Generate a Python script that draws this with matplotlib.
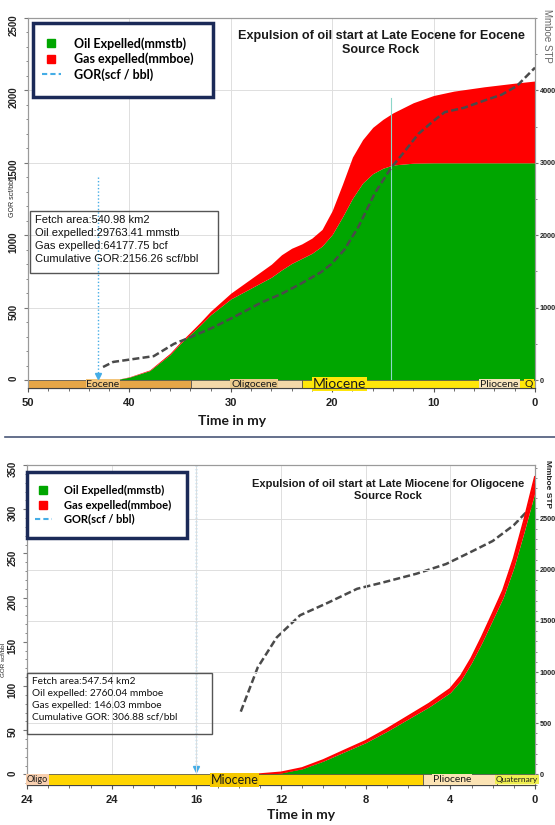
import matplotlib
matplotlib.use("Agg")
import matplotlib.pyplot as plt
from matplotlib.patches import Rectangle
from matplotlib.lines import Line2D
from matplotlib.ticker import MultipleLocator

plt.rcParams['font.family'] = ['Liberation Sans', 'DejaVu Sans']

W, H = 555, 825

# ---------------- top panel: Eocene source rock ----------------
top_time = [41.5, 40, 38, 36, 35, 33, 32, 30, 28, 26, 25, 24, 23, 22, 21, 20,
            19, 18, 17, 16, 15, 14, 12, 10, 8, 5, 2, 0]
top_oil = [0, 40, 130, 350, 500, 760, 900, 1120, 1270, 1420, 1520, 1610, 1680,
           1750, 1850, 2010, 2250, 2510, 2720, 2850, 2925, 2970, 2995, 3000,
           3000, 3000, 3000, 3000]
top_gas = [0, 5, 10, 20, 20, 40, 50, 80, 130, 180, 210, 210, 200, 210, 230, 330,
           450, 570, 600, 640, 675, 720, 835, 930, 990, 1050, 1100, 1130]
top_gor_time = [42.6, 41.6, 39.6, 37.6, 35.6, 34.0, 31.7, 29.7, 27.0, 25.0, 23.1,
                21.1, 20.1, 18.8, 17.4, 15.8, 14.2, 12.9, 11.5, 10.0, 8.9, 7.0,
                5.0, 3.3, 1.8, 0.0]
top_gor = [90, 125, 145, 165, 250, 295, 365, 435, 535, 595, 665, 745, 800, 900,
           1060, 1290, 1465, 1575, 1700, 1790, 1850, 1880, 1930, 1970, 2030, 2157]
top_epochs = ['Eocene', 'Oligocene', 'Miocene', 'Pliocene', 'Q']
top_epoch_start = [50, 33.9, 23.0, 5.3, 1.6]
top_epoch_end = [33.9, 23.0, 5.3, 1.6, 0]
top_info = ["Fetch area:540.98 km2", "Oil expelled:29763.41 mmstb",
            "Gas expelled:64177.75 bcf", "Cumulative GOR:2156.26 scf/bbl"]
top_title = "Expulsion of oil start at Late Eocene for Eocene\nSource Rock"

# ---------------- bottom panel: Oligocene source rock ----------------
bot_time = [13, 12, 11, 10, 9, 8, 7, 6, 5, 4, 3.5, 3, 2.5, 2, 1.5, 1, 0.5, 0]
bot_oil = [0, 15, 55, 130, 220, 310, 420, 540, 660, 800, 920, 1090, 1290, 1510,
           1730, 2020, 2380, 2760]
bot_gas = [0, 2, 5, 8, 12, 15, 20, 25, 30, 35, 40, 45, 55, 60, 70, 90, 110, 146]
bot_gor_time = [13.9, 13.1, 12.2, 11.1, 9.8, 8.4, 7.2, 5.6, 4.2, 3.0, 2.0, 1.0, 0.0]
bot_gor = [71, 121, 155, 180, 194, 210, 217, 227, 238, 252, 264, 282, 307]
bot_epochs = ['Oligo', 'Miocene', 'Pliocene', 'Quaternary']
bot_epoch_start = [24, 23.1, 5.3, 1.8]
bot_epoch_end = [23.1, 5.3, 1.8, 0]
bot_xticks = [24, 20, 16, 12, 8, 4, 0]
bot_xticklabels = ['24', '24', '16', '12', '8', '4', '0']
bot_info = ["Fetch area:547.54 km2", "Oil expelled: 2760.04 mmboe",
            "Gas expelled: 146.03 mmboe", "Cumulative GOR: 306.88 scf/bbl"]
bot_title = "Expulsion of oil start at Late Miocene for Oligocene\nSource Rock"

legend_labels = ['Oil Expelled(mmstb)', 'Gas expelled(mmboe)', 'GOR(scf / bbl)']

GREEN = '#00a600'
RED = '#ff0000'
GOR_C = '#4a4a4a'
ARROW_C = '#45ade6'
GRID_C = '#dedede'
NAVY = '#1b2a58'


def fx(px):
    return px / W


def fy(py):
    return 1 - py / H


def rect_px(x0, y0, x1, y1):
    return [x0 / W, 1 - y1 / H, (x1 - x0) / W, (y1 - y0) / H]


fig = plt.figure(figsize=(W / 100, H / 100), dpi=100)


def make_panel(box, xlim, ylim_area, ylim_gor, gor_on_top):
    ax = fig.add_axes(rect_px(*box))
    g = ax.twinx()
    ax.set_xlim(*xlim)
    ax.set_ylim(*ylim_area)
    g.set_ylim(*ylim_gor)
    # area axis on the right, GOR axis on the left
    ax.yaxis.tick_right()
    g.yaxis.tick_left()
    if not gor_on_top:
        ax.set_zorder(g.get_zorder() + 1)
        ax.patch.set_visible(False)
    ax.grid(True, color=GRID_C, lw=0.7)
    ax.set_axisbelow(True)
    for a in (ax, g):
        for s in a.spines.values():
            s.set_color('#9a9a9a')
            s.set_linewidth(0.8)
        a.spines['bottom'].set_color('#444444')
    ax.tick_params(axis='x', which='both', direction='out', colors='#555555',
                   labelcolor='#222222', labelsize=8, pad=4, length=3)
    ax.tick_params(axis='x', which='minor', length=2)
    ax.tick_params(axis='y', which='both', direction='out', colors='#777777',
                   labelcolor='#222222', labelsize=5.2, pad=0.8, length=2.5)
    ax.tick_params(axis='y', which='minor', length=1.5)
    g.tick_params(axis='y', which='both', direction='out', colors='#777777',
                  labelcolor='#222222', labelsize=7, pad=4, length=3,
                  labelrotation=90)
    g.tick_params(axis='y', which='minor', length=1.5)
    return ax, g


def draw_epochs(ax, names, starts, ends, colors, label_x, label_bg, sizes):
    ylo = ax.get_ylim()[0]
    for s, e, c in zip(starts, ends, colors):
        ax.add_patch(Rectangle((e, ylo), s - e, -ylo, facecolor=c,
                               edgecolor='#444444', lw=0.5, zorder=3))
    for name, x, bg, fs in zip(names, label_x, label_bg, sizes):
        ax.text(x, ylo / 2, name, ha='center', va='center', fontsize=fs,
                family='Lato', color='#1a1a1a', zorder=4,
                bbox=dict(facecolor=bg, edgecolor='none', pad=0.6))


def bold_ticks(*axes):
    for a in axes:
        for lbl in a.get_xticklabels() + a.get_yticklabels():
            lbl.set_fontweight('bold')


def legend_box(x0, y0, x1, y1, mid_y, handle_x, fs, spacing):
    fig.add_artist(Rectangle((fx(x0), fy(y1)), (x1 - x0) / W, (y1 - y0) / H,
                             transform=fig.transFigure, facecolor='white',
                             edgecolor=NAVY, lw=2.5, zorder=4))
    handles = [Line2D([], [], marker='s', ls='none', color=GREEN, markersize=5.5),
               Line2D([], [], marker='s', ls='none', color=RED, markersize=5.5),
               Line2D([], [], ls=(0, (2.5, 1.5)), color=ARROW_C, lw=1.5)]
    leg = fig.legend(handles, legend_labels, loc='center left',
                     bbox_to_anchor=(fx(handle_x), fy(mid_y)), frameon=False,
                     borderpad=0, borderaxespad=0, handlelength=1.5,
                     handletextpad=1.1, labelspacing=spacing,
                     prop=dict(family='Lato', weight='bold', size=fs))
    leg.set_zorder(5)


def info_box(x0, y0, x1, y1, tx, ty, lines, fs, ls, family):
    fig.add_artist(Rectangle((fx(x0), fy(y1)), (x1 - x0) / W, (y1 - y0) / H,
                             transform=fig.transFigure, fill=False,
                             edgecolor='#555555', lw=1.0, zorder=4))
    fig.text(fx(tx), fy(ty), "\n".join(lines), ha='left', va='top', fontsize=fs,
             linespacing=ls, color='#111111', family=family, zorder=5)


# ===================== top panel =====================
ax1, g1 = make_panel((28, 18, 535, 388), (50, 0), (-110, 5000), (-55, 2500), True)
top_total = [o + gs for o, gs in zip(top_oil, top_gas)]
ax1.fill_between(top_time, 0, top_oil, color=GREEN, lw=0, zorder=2)
ax1.fill_between(top_time, top_oil, top_total, color=RED, lw=0, zorder=2)
ax1.plot([14.2, 14.2], [0, 3890], color='#8dd6c9', lw=0.8, zorder=2.5)
ax1.set_xticks([50, 40, 30, 20, 10, 0])
ax1.xaxis.set_minor_locator(MultipleLocator(2))
ax1.set_yticks([0, 1000, 2000, 3000, 4000])
ax1.yaxis.set_minor_locator(MultipleLocator(500))
g1.set_yticks([0, 500, 1000, 1500, 2000, 2500])
g1.yaxis.set_minor_locator(MultipleLocator(100))
g1.plot(top_gor_time, top_gor, color=GOR_C, lw=1.8, dashes=(2.8, 1.3), zorder=3)
g1.plot([43.1, 43.1], [1400, 40], color=ARROW_C, lw=1.0, ls=(0, (1, 1.5)))
g1.plot([43.1], [30], marker='v', color=ARROW_C, markersize=4)
draw_epochs(ax1, top_epochs, top_epoch_start, top_epoch_end,
            ['#e6a647', '#f3d8a8', '#ffe60a', '#f6e3bc', '#ffe60a'],
            [42.6, 27.7, 19.3, 3.5, 0.6],
            ['#f2c47a', '#eccb8e', '#ffe60a', '#f6e3bc', '#ffe60a'],
            [7.5, 7.5, 10, 7.5, 7.5])
bold_ticks(ax1, g1)

fig.text(fx(381), fy(43), top_title, ha='center', va='center', fontsize=9.1,
         fontweight='bold', linespacing=1.2, color='#1a1a1a')
fig.text(fx(232), fy(421), 'Time in my', ha='center', va='center', fontsize=10,
         fontweight='bold', family='Lato', color='#1a1a1a')
fig.text(fx(13), fy(198), 'GOR scf/bbl', ha='center', va='center', fontsize=5,
         rotation=90, color='#222222')
fig.text(fx(547), fy(36), 'Mmboe STP', ha='center', va='center', fontsize=7,
         rotation=-90, color='#666666')
legend_box(33, 23, 213, 97, 59, 42, 9, 0.22)
info_box(30, 211, 218, 273, 35, 215, top_info, 8, 1.38, 'Liberation Sans')

# separator between the two figures
fig.add_artist(Line2D([fx(5), 1.0], [fy(437), fy(437)], transform=fig.transFigure,
                      color='#4a5878', lw=1.2))

# ===================== bottom panel =====================
ax2, g2 = make_panel((27, 465, 535, 785), (24, 0), (-104, 3025), (-12, 350), False)
bot_total = [o + gs for o, gs in zip(bot_oil, bot_gas)]
ax2.fill_between(bot_time, 0, bot_oil, color=GREEN, lw=0, zorder=2)
ax2.fill_between(bot_time, bot_oil, bot_total, color=RED, lw=0, zorder=2)
ax2.plot(bot_time, bot_total, color=RED, lw=1.6, zorder=2)
ax2.set_xticks(bot_xticks)
ax2.set_xticklabels(bot_xticklabels)
ax2.xaxis.set_minor_locator(MultipleLocator(1))
ax2.set_yticks([0, 500, 1000, 1500, 2000, 2500])
ax2.yaxis.set_minor_locator(MultipleLocator(100))
g2.set_yticks([0, 50, 100, 150, 200, 250, 300, 350])
g2.yaxis.set_minor_locator(MultipleLocator(10))
g2.plot(bot_gor_time, bot_gor, color=GOR_C, lw=1.8, dashes=(2.8, 1.3), zorder=3)
g2.plot([16, 16], [350, 8], color=ARROW_C, lw=1.0, ls=(0, (1, 1.5)))
g2.plot([16], [6], marker='v', color=ARROW_C, markersize=4)
draw_epochs(ax2, bot_epochs, bot_epoch_start, bot_epoch_end,
            ['#f8cfaf', '#ffd500', '#fbe3b4', '#fff7a0'],
            [23.5, 14.2, 3.9, 0.85],
            ['#f8cfaf', '#f5c800', '#fbe3b4', '#eeee50'],
            [6.5, 9, 7.5, 6])
bold_ticks(ax2, g2)

fig.text(fx(388), fy(490), bot_title, ha='center', va='center', fontsize=8,
         fontweight='bold', linespacing=1.2, color='#1a1a1a')
fig.text(fx(301), fy(815), 'Time in my', ha='center', va='center', fontsize=10,
         fontweight='bold', family='Lato', color='#1a1a1a')
fig.text(fx(4), fy(660), 'GOR scf/bbl', ha='center', va='center', fontsize=4.5,
         rotation=90, color='#222222')
fig.text(fx(548), fy(484), 'Mmboe STP', ha='center', va='center', fontsize=6,
         rotation=-90, fontweight='bold', color='#222222')
legend_box(27, 472, 187, 538, 505, 35, 8, 0.28)
info_box(27, 673, 212, 734, 32, 677, bot_info, 7.3, 1.42, 'Lato')

fig.savefig('out.png', dpi=100, facecolor='white')
